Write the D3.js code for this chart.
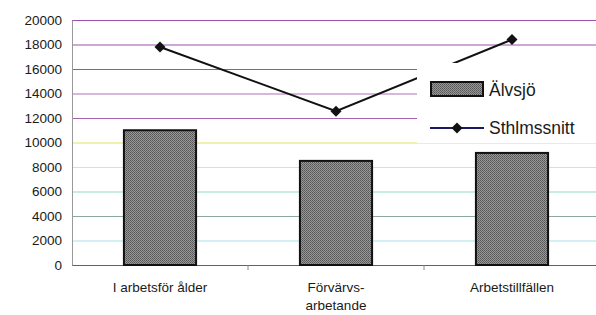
<!DOCTYPE html>
<html><head><meta charset="utf-8">
<script src="https://cdn.jsdelivr.net/npm/d3@7"></script>
<style>body{margin:0;background:#fff}svg{display:block}</style>
</head><body>
<script>
const categories = ["I arbetsför ålder", "Förvärvs-\narbetande", "Arbetstillfällen"];
const alvsjo = [11000, 8500, 9150];
const sthlm = [17800, 12550, 18400];
const yTicks = [0, 2000, 4000, 6000, 8000, 10000, 12000, 14000, 16000, 18000, 20000];
const seriesNames = ["Älvsjö", "Sthlmssnitt"];
const gridColors = ["#6a50b0", "#a8e4ec", "#8aa8a0", "#90dcc8", "#d8ec90", "#e4e460", "#a860b0", "#b070b8", "#a050b0", "#a050b0", "#a050b0"];

const W = 596, H = 315;
const svg = d3.select("body").append("svg").attr("width", W).attr("height", H);
const defs = svg.append("defs");
const pat = defs.append("pattern").attr("id", "dots").attr("patternUnits", "userSpaceOnUse").attr("width", 2).attr("height", 2);
pat.append("rect").attr("width", 2).attr("height", 2).attr("fill", "#979797");
pat.append("rect").attr("width", 1).attr("height", 1).attr("fill", "#555");
pat.append("rect").attr("x", 1).attr("y", 1).attr("width", 1).attr("height", 1).attr("fill", "#666");

const x = d3.scaleBand().domain(categories).range([72, 600]).paddingInner(0.59).paddingOuter(0.295);
const y = d3.scaleLinear().domain([0, 20000]).range([265, 20]);

// gridlines
svg.append("g").selectAll("line").data(yTicks).join("line")
  .attr("x1", 72).attr("x2", 600)
  .attr("y1", d => y(d) + 0.5).attr("y2", d => y(d) + 0.5)
  .attr("stroke", (d, i) => gridColors[i]).attr("stroke-width", 1.2);

// y axis
const ya = svg.append("g").attr("transform", "translate(72,0)")
  .call(d3.axisLeft(y).tickValues(yTicks).tickSize(0).tickPadding(10).tickFormat(d3.format("d")));
ya.select(".domain").attr("stroke", "#999").attr("stroke-width", 1);
ya.selectAll("text").attr("font-family", "Liberation Sans, Arial, sans-serif").attr("font-size", 13.5).attr("fill", "#1a1a1a");

// x axis ticks between categories
const xb = d3.scaleLinear().domain([0, 3]).range([72, 600]);
svg.append("g").selectAll("line").data([1, 2]).join("line")
  .attr("x1", d => xb(d)).attr("x2", d => xb(d)).attr("y1", 265).attr("y2", 270)
  .attr("stroke", "#888");

// bars
svg.append("g").selectAll("rect").data(alvsjo).join("rect")
  .attr("x", (d, i) => x(categories[i]))
  .attr("y", d => y(d))
  .attr("width", x.bandwidth())
  .attr("height", d => y(0) - y(d))
  .attr("fill", "url(#dots)").attr("stroke", "#111").attr("stroke-width", 2);

// category labels
const lab = svg.append("g").attr("font-family", "Liberation Sans, Arial, sans-serif").attr("font-size", 13.5).attr("fill", "#1a1a1a").attr("text-anchor", "middle");
categories.forEach((c, i) => {
  const t = lab.append("text").attr("x", x(c) + x.bandwidth() / 2).attr("y", 292);
  c.split("\n").forEach((s, j) => t.append("tspan").attr("x", x(c) + x.bandwidth() / 2).attr("dy", j ? 18 : 0).text(s));
});

// line
const cx = (i) => x(categories[i]) + x.bandwidth() / 2;
const lineGen = d3.line().x((d, i) => cx(i)).y(d => y(d));
svg.append("path").datum(sthlm).attr("d", lineGen).attr("fill", "none").attr("stroke", "#111").attr("stroke-width", 2);
const diamond = d3.symbol().type(d3.symbolSquare).size(60);
svg.append("g").selectAll("path").data(sthlm).join("path")
  .attr("transform", (d, i) => `translate(${cx(i)},${y(d)}) rotate(45)`)
  .attr("d", diamond).attr("fill", "#111");

// legend
const lg = svg.append("g");
lg.append("rect").attr("x", 417).attr("y", 63).attr("width", 185).attr("height", 80).attr("fill", "#fff");
lg.append("rect").attr("x", 431).attr("y", 82).attr("width", 52).attr("height", 14).attr("fill", "url(#dots)").attr("stroke", "#111").attr("stroke-width", 2);
lg.append("line").attr("x1", 430).attr("x2", 484).attr("y1", 128).attr("y2", 128).attr("stroke", "#1a1a60").attr("stroke-width", 2);
lg.append("path").attr("transform", "translate(457,128) rotate(45)").attr("d", diamond).attr("fill", "#111");
const lt = lg.append("g").attr("font-family", "Liberation Sans, Arial, sans-serif").attr("font-size", 17.5).attr("fill", "#1a1a1a");
lt.append("text").attr("x", 489).attr("y", 96).text(seriesNames[0]);
lt.append("text").attr("x", 489).attr("y", 134).text(seriesNames[1]);
</script>
</body></html>
